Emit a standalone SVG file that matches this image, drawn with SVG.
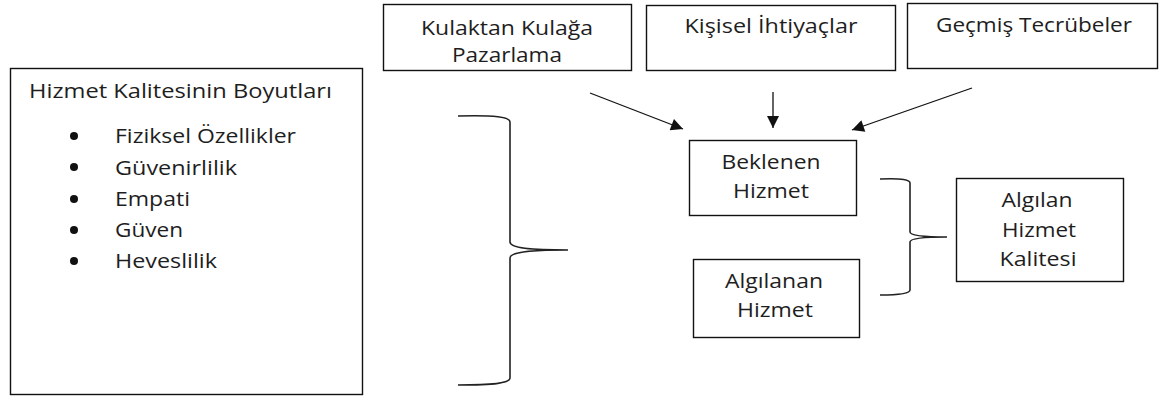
<svg xmlns="http://www.w3.org/2000/svg" width="1160" height="396" viewBox="0 0 1160 396">
<style>
.box{fill:#fff;stroke:#111;stroke-width:1.4}
.t{font-family:"Open Sans","Liberation Sans",sans-serif;font-size:20px;fill:#1e1e1e}
.c{text-anchor:middle}
.line{fill:none;stroke:#111;stroke-width:1.3}
.brace{fill:none;stroke:#222;stroke-width:1.6}
</style>
<defs>
<marker id="ah" viewBox="0 0 10 10" refX="10" refY="5" markerWidth="14" markerHeight="12" markerUnits="userSpaceOnUse" orient="auto">
<path d="M0,0 L10,5 L0,10 Z" fill="#111"/>
</marker>
</defs>
<rect width="1160" height="396" fill="#fff"/>

<g id="boyutlar">
<rect class="box" x="10.5" y="68.5" width="352" height="326"/>
<text class="t" x="29" y="98" textLength="303" lengthAdjust="spacingAndGlyphs">Hizmet Kalitesinin Boyutları</text>
<circle cx="74" cy="136" r="4" fill="#111"/>
<circle cx="74" cy="167" r="4" fill="#111"/>
<circle cx="74" cy="199" r="4" fill="#111"/>
<circle cx="74" cy="230" r="4" fill="#111"/>
<circle cx="74" cy="261" r="4" fill="#111"/>
<text class="t" x="115" y="143" textLength="181" lengthAdjust="spacingAndGlyphs">Fiziksel Özellikler</text>
<text class="t" x="115" y="175" textLength="122" lengthAdjust="spacingAndGlyphs">Güvenirlilik</text>
<text class="t" x="115" y="206" textLength="75" lengthAdjust="spacingAndGlyphs">Empati</text>
<text class="t" x="115" y="237" textLength="68" lengthAdjust="spacingAndGlyphs">Güven</text>
<text class="t" x="115" y="268" textLength="102" lengthAdjust="spacingAndGlyphs">Heveslilik</text>
</g>

<g id="kulaktan">
<rect class="box" x="383.5" y="4.5" width="248" height="66"/>
<text class="t c" x="507" y="35" textLength="172" lengthAdjust="spacingAndGlyphs">Kulaktan Kulağa</text>
<text class="t c" x="507" y="62" textLength="110" lengthAdjust="spacingAndGlyphs">Pazarlama</text>
</g>

<g id="kisisel">
<rect class="box" x="646.5" y="5.5" width="249" height="65"/>
<text class="t c" x="771" y="33" textLength="173" lengthAdjust="spacingAndGlyphs">Kişisel İhtiyaçlar</text>
</g>

<g id="gecmis">
<rect class="box" x="907.5" y="3.5" width="250" height="65"/>
<text class="t c" x="1034" y="32" textLength="196" lengthAdjust="spacingAndGlyphs">Geçmiş Tecrübeler</text>
</g>

<g id="beklenen">
<rect class="box" x="689.5" y="140.5" width="167" height="75"/>
<text class="t c" x="771" y="169" textLength="99" lengthAdjust="spacingAndGlyphs">Beklenen</text>
<text class="t c" x="771" y="198" textLength="76" lengthAdjust="spacingAndGlyphs">Hizmet</text>
</g>

<g id="algilanan">
<rect class="box" x="693.5" y="259.5" width="166" height="78"/>
<text class="t c" x="774" y="288" textLength="98" lengthAdjust="spacingAndGlyphs">Algılanan</text>
<text class="t c" x="775" y="317" textLength="76" lengthAdjust="spacingAndGlyphs">Hizmet</text>
</g>

<g id="algilan-kalite">
<rect class="box" x="956.5" y="178.5" width="167" height="103"/>
<text class="t c" x="1037" y="207" textLength="71" lengthAdjust="spacingAndGlyphs">Algılan</text>
<text class="t c" x="1039" y="237" textLength="74" lengthAdjust="spacingAndGlyphs">Hizmet</text>
<text class="t c" x="1038" y="266" textLength="77" lengthAdjust="spacingAndGlyphs">Kalitesi</text>
</g>

<g id="connectors">
<line class="line" x1="590" y1="93" x2="683" y2="129" marker-end="url(#ah)"/>
<line class="line" x1="773" y1="92" x2="773" y2="128" marker-end="url(#ah)"/>
<line class="line" x1="972" y1="88" x2="852" y2="130" marker-end="url(#ah)"/>
<path class="brace" d="M458,116 C495,115 510,117 510,122 L510,242 C510,248 530,250 568,250 C530,250 510,252 510,258 L510,378 C510,383 495,385 458,385"/>
<path class="brace" d="M880,179 C903,178 910,180 910,183 L910,232 C910,236 925,237 947,237 C925,237 910,238 910,242 L910,290 C910,293 903,295 880,295"/>
</g>
</svg>
